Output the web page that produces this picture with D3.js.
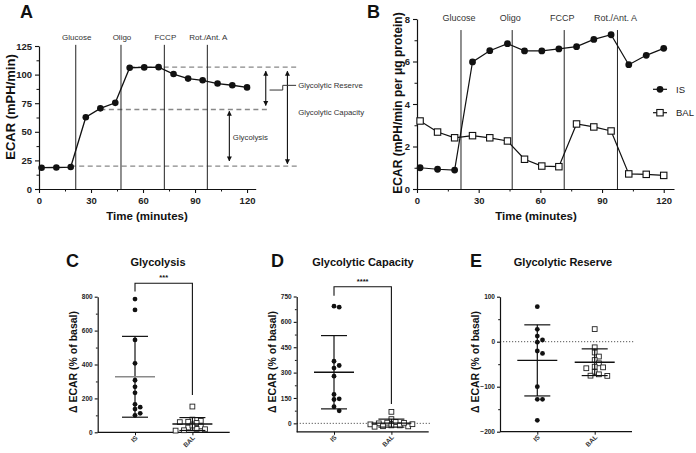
<!DOCTYPE html>
<html><head><meta charset="utf-8">
<script src="https://cdn.jsdelivr.net/npm/d3@7"></script>
<style>
body{margin:0;background:#fff}
svg{display:block}
text{font-family:"Liberation Sans",Arial,Helvetica,sans-serif}
</style>
</head><body>
<svg id="chart" width="696" height="453"></svg>
<script>
// ---------------- DATA ----------------
const timePoints = [1.5,10,18.3,27,35.4,44,52.3,60.7,69,77.6,86,94.4,103,111.5,120];
const ecarA   = [18.6,18.8,19.2,62.7,70.5,75.3,106,106.3,106.5,100.5,96.5,95,92.2,90.7,88.8];
const ecarIS  = [1.0,0.93,0.89,5.98,6.51,6.84,6.5,6.5,6.59,6.7,7.04,7.26,5.85,6.29,6.62];
const ecarBAL = [3.2,2.68,2.41,2.51,2.41,2.26,1.4,1.08,1.05,3.06,2.92,2.73,0.71,0.69,0.64];
const injectionNames = ["Glucose","Oligo","FCCP","Rot./Ant. A"];
const injectionTimesA = [21.2,47.3,72.3,97.1];
const injectionTimesB = [21.4,46.3,71.6,97.5];
const timeTicks = [0,30,60,90,120];
const ecarATicks = [0,25,50,75,100,125];
const ecarBTicks = [0,2,4,6,8];
const glycolyticLevels = [106.5,69.5,20];   // capacity, glucose-stimulated, basal
const annotationLabels = ["Glycolytic Reserve","Glycolytic Capacity","Glycolysis"];
const seriesNames = ["IS","BAL"];

const groups = ["IS","BAL"];
const glycolysisIS  = [786,722,545,407,307,268,233,148,165,137,112,100];
const glycolysisBAL = [152,75,68,62,60,55,35,28,18,12,10,20,40];
const capacityIS    = [693,687,367,342,327,279,145,171,141,98,74];
const capacityBAL   = [68,25,8,4,0,-6,-12,-17,-20,-18,-12,-5,3];
const reserveIS     = [77.8,27.5,12.6,3.8,-1,-20.7,-26,-100,-128,-128,-174.7];
const reserveBAL    = [28,-12.5,-24,-33,-40.7,-48,-57,-59,-55.5,-67,-72.5,-76,-75.5];
const glycolysisTicks = [0,200,400,600,800];
const capacityTicks   = [0,150,300,450,600,750];
const reserveTicks    = [-200,-100,0,100];

// ---------------- HELPERS ----------------
const svg = d3.select("#chart");
const FONT = '"Liberation Sans",Arial,Helvetica,sans-serif';
const mids = arr => d3.pairs(arr).map(([a,b]) => (a+b)/2);

function styleAxis(g, fs, bold){
  g.select(".domain").attr("stroke","#111").attr("stroke-width",1.2);
  g.selectAll(".tick line").attr("stroke","#111").attr("stroke-width",1.1);
  g.selectAll(".tick text").attr("font-size",fs).attr("font-weight",bold?"bold":"normal")
    .attr("fill","#222").style("font-family",FONT);
}
function panelLetter(t,x,y){
  svg.append("text").attr("x",x).attr("y",y).attr("font-size",18).attr("font-weight","bold")
    .attr("fill","#111").text(t);
}
const defs = svg.append("defs");
defs.append("marker").attr("id","ah").attr("viewBox","0 0 10 10").attr("refX",9).attr("refY",5)
  .attr("markerWidth",5).attr("markerHeight",6).attr("orient","auto-start-reverse")
  .attr("markerUnits","userSpaceOnUse")
  .append("path").attr("d","M0,0L10,5L0,10Z").attr("fill","#111");

// ---------------- PANEL A ----------------
(function(){
  const x = d3.scaleLinear().domain([0,125]).range([39,255.7]);
  const y = d3.scaleLinear().domain([0,125]).range([189,46]);
  panelLetter("A",20,18);
  const dashExt = [[52.3,150],[35.4,133],[18.3,150.5]];
  glycolyticLevels.forEach((lv,i)=>{
    svg.append("line").attr("x1",x(dashExt[i][0])).attr("x2",x(dashExt[i][1]))
      .attr("y1",y(lv)).attr("y2",y(lv)).attr("stroke","#888").attr("stroke-width",1.3)
      .attr("stroke-dasharray","5,3.5");
  });
  injectionTimesA.forEach((t,i)=>{
    svg.append("line").attr("x1",x(t)).attr("x2",x(t)).attr("y1",y(0)).attr("y2",y(126))
      .attr("stroke","#222").attr("stroke-width",1);
    svg.append("text").attr("x",x(t)+1).attr("y",40).attr("text-anchor","middle")
      .attr("font-size",8).attr("fill","#333").text(injectionNames[i]);
  });
  const gx = svg.append("g").attr("transform",`translate(0,${y(0)})`)
    .call(d3.axisBottom(x).tickValues(timeTicks).tickSize(4).tickSizeOuter(0).tickPadding(4));
  styleAxis(gx,9.5,true);
  svg.append("g").attr("transform",`translate(0,${y(0)})`)
    .call(d3.axisBottom(x).tickValues(mids(timeTicks)).tickSize(2.5).tickFormat(""))
    .call(g=>{g.select(".domain").remove(); g.selectAll("line").attr("stroke","#111");});
  const gy = svg.append("g").attr("transform",`translate(${x(0)},0)`)
    .call(d3.axisLeft(y).tickValues(ecarATicks).tickSize(4).tickSizeOuter(0).tickPadding(3));
  styleAxis(gy,9.5,true);
  svg.append("g").attr("transform",`translate(${x(0)},0)`)
    .call(d3.axisLeft(y).tickValues(mids(ecarATicks)).tickSize(2.5).tickFormat(""))
    .call(g=>{g.select(".domain").remove(); g.selectAll("line").attr("stroke","#111");});
  svg.append("text").attr("transform",`translate(15,107) rotate(-90)`).attr("text-anchor","middle")
    .attr("font-size",13).attr("font-weight","bold").attr("fill","#111").text("ECAR (mPH/min)");
  svg.append("text").attr("x",147).attr("y",220).attr("text-anchor","middle")
    .attr("font-size",11.5).attr("font-weight","bold").attr("fill","#111").text("Time (minutes)");
  const pts = timePoints.map((t,i)=>[t,ecarA[i]]);
  svg.append("path").datum(pts).attr("fill","none").attr("stroke","#111").attr("stroke-width",1.3)
    .attr("d",d3.line().x(d=>x(d[0])).y(d=>y(d[1])));
  svg.selectAll(".ptA").data(pts).enter().append("circle").attr("cx",d=>x(d[0])).attr("cy",d=>y(d[1]))
    .attr("r",3.3).attr("fill","#111");
  const arrow = (t,v1,v2)=>svg.append("line").attr("x1",x(t)).attr("x2",x(t))
    .attr("y1",y(v1)).attr("y2",y(v2)).attr("stroke","#111").attr("stroke-width",1.1)
    .attr("marker-start","url(#ah)").attr("marker-end","url(#ah)");
  arrow(130.8, glycolyticLevels[0]-3.5, glycolyticLevels[1]+3.5);
  arrow(109.8, glycolyticLevels[1]-1.5, glycolyticLevels[2]+4.5);
  arrow(143.3, glycolyticLevels[0]-3.5, glycolyticLevels[2]+2);
  svg.append("path").attr("fill","none").attr("stroke","#333").attr("stroke-width",1)
    .attr("d",`M${x(133)},${y(86.5)}H${x(140.6)}V${y(90.6)}H${x(148.3)}`);
  svg.append("text").attr("x",x(149.5)).attr("y",y(90.6)+3).attr("font-size",7.8).attr("fill","#333").text(annotationLabels[0]);
  svg.append("text").attr("x",x(149.5)).attr("y",y(67.3)+3).attr("font-size",7.8).attr("fill","#333").text(annotationLabels[1]);
  svg.append("text").attr("x",x(111.8)).attr("y",y(45.3)+3).attr("font-size",7.8).attr("fill","#333").text(annotationLabels[2]);
})();

// ---------------- PANEL B ----------------
(function(){
  const x = d3.scaleLinear().domain([0,125]).range([417,674]);
  const y = d3.scaleLinear().domain([0,8]).range([189,19]);
  panelLetter("B",367,18);
  injectionTimesB.forEach((t,i)=>{
    svg.append("line").attr("x1",x(t)).attr("x2",x(t)).attr("y1",y(0)).attr("y2",y(7.48))
      .attr("stroke","#222").attr("stroke-width",1);
    svg.append("text").attr("x",x(t)-2).attr("y",21).attr("text-anchor","middle")
      .attr("font-size",9).attr("fill","#333").text(injectionNames[i]);
  });
  const gx = svg.append("g").attr("transform",`translate(0,${y(0)})`)
    .call(d3.axisBottom(x).tickValues(timeTicks).tickSize(4).tickSizeOuter(0).tickPadding(4));
  styleAxis(gx,9.5,true);
  svg.append("g").attr("transform",`translate(0,${y(0)})`)
    .call(d3.axisBottom(x).tickValues(mids(timeTicks)).tickSize(2.5).tickFormat(""))
    .call(g=>{g.select(".domain").remove(); g.selectAll("line").attr("stroke","#111");});
  const gy = svg.append("g").attr("transform",`translate(${x(0)},0)`)
    .call(d3.axisLeft(y).tickValues(ecarBTicks).tickSize(4).tickSizeOuter(0).tickPadding(3));
  styleAxis(gy,9.5,true);
  svg.append("g").attr("transform",`translate(${x(0)},0)`)
    .call(d3.axisLeft(y).tickValues(mids(ecarBTicks)).tickSize(2.5).tickFormat(""))
    .call(g=>{g.select(".domain").remove(); g.selectAll("line").attr("stroke","#111");});
  svg.append("text").attr("transform",`translate(402,103) rotate(-90)`).attr("text-anchor","middle")
    .attr("font-size",12).attr("font-weight","bold").attr("fill","#111").text("ECAR (mPH/min per μg protein)");
  svg.append("text").attr("x",536).attr("y",220).attr("text-anchor","middle")
    .attr("font-size",11.5).attr("font-weight","bold").attr("fill","#111").text("Time (minutes)");
  const line = d3.line().x(d=>x(d[0])).y(d=>y(d[1]));
  const isPts = timePoints.map((t,i)=>[t,ecarIS[i]]);
  const balPts = timePoints.map((t,i)=>[t,ecarBAL[i]]);
  [isPts,balPts].forEach(p=>svg.append("path").datum(p).attr("fill","none").attr("stroke","#111")
    .attr("stroke-width",1.2).attr("d",line));
  svg.selectAll(".ptIS").data(isPts).enter().append("circle").attr("cx",d=>x(d[0])).attr("cy",d=>y(d[1]))
    .attr("r",3.4).attr("fill","#111");
  const s=6.4;
  svg.selectAll(".ptBAL").data(balPts).enter().append("rect").attr("x",d=>x(d[0])-s/2).attr("y",d=>y(d[1])-s/2)
    .attr("width",s).attr("height",s).attr("fill","#fff").attr("stroke","#111").attr("stroke-width",1.1);
  const lx=660, ly=[89.3,112.7];
  seriesNames.forEach((n,i)=>{
    svg.append("line").attr("x1",lx-7).attr("x2",lx+7).attr("y1",ly[i]).attr("y2",ly[i]).attr("stroke","#111").attr("stroke-width",1.2);
    if(i===0) svg.append("circle").attr("cx",lx).attr("cy",ly[i]).attr("r",3.4).attr("fill","#111");
    else svg.append("rect").attr("x",lx-s/2).attr("y",ly[i]-s/2).attr("width",s).attr("height",s)
      .attr("fill","#fff").attr("stroke","#111").attr("stroke-width",1.1);
    svg.append("text").attr("x",lx+16).attr("y",ly[i]+3.3).attr("font-size",9.5).attr("fill","#222").text(n);
  });
})();

// ---------------- DOT PANELS ----------------
function swarm(vals, y, minDist, step){
  const idx = vals.map((v,i)=>i).sort((a,b)=>vals[b]-vals[a]);
  const placed=[], off=new Array(vals.length).fill(0);
  idx.forEach(i=>{
    const py=y(vals[i]);
    for(let k=0;k<30;k++){
      const cands = k===0?[0]:[k*step,-k*step];
      const c = cands.find(c=>placed.every(p=>Math.hypot(p.x-c,p.y-py)>=minDist));
      if(c!==undefined){off[i]=c; placed.push({x:c,y:py}); break;}
    }
  });
  return off;
}

function dotPanel(o){
  const x = d3.scalePoint().domain(groups).range([o.x0,o.x0+132]).padding(0.65);
  const y = d3.scaleLinear().domain(o.domain).range([o.yBottom,o.yTop]);
  panelLetter(o.letter,o.letterX,267);
  svg.append("text").attr("x",o.titleX).attr("y",266).attr("text-anchor","middle")
    .attr("font-size",11).attr("font-weight","bold").attr("fill","#111").text(o.title);
  svg.append("text").attr("transform",`translate(${o.x0-21},362) rotate(-90)`).attr("text-anchor","middle")
    .attr("font-size",10.5).attr("font-weight","bold").attr("fill","#111").text("Δ ECAR (% of basal)");
  if(o.zero){
    svg.append("line").attr("x1",o.x0).attr("x2",o.x0+134).attr("y1",y(0)).attr("y2",y(0))
      .attr("stroke","#555").attr("stroke-width",1).attr("stroke-dasharray","1.2,1.8");
  }
  const gy = svg.append("g").attr("transform",`translate(${o.x0},0)`)
    .call(d3.axisLeft(y).tickValues(o.ticks).tickSize(3).tickSizeOuter(0).tickPadding(2));
  styleAxis(gy,6.5,true);
  svg.append("g").attr("transform",`translate(${o.x0},0)`)
    .call(d3.axisLeft(y).tickValues(mids(o.ticks)).tickSize(1.8).tickFormat(""))
    .call(g=>{g.select(".domain").remove(); g.selectAll("line").attr("stroke","#111");});
  const gx = svg.append("g").attr("transform",`translate(0,${o.yBottom})`)
    .call(d3.axisBottom(x).tickSize(3).tickSizeOuter(0).tickFormat(""));
  gx.select(".domain").attr("d",`M${o.x0},0H${o.x0+132}`).attr("stroke","#111").attr("stroke-width",1.2);
  gx.selectAll(".tick line").attr("stroke","#111");
  groups.forEach(gname=>{
    svg.append("text").attr("transform",`translate(${x(gname)+3},${o.yBottom+6}) rotate(-45)`)
      .attr("text-anchor","end").attr("font-size",6.5).attr("font-weight","bold").attr("fill","#333").text(gname);
  });
  o.data.forEach((vals,gi)=>{
    const cx = x(groups[gi]);
    if(gi===0){
      const off = swarm(vals,y,4.6,5.2);
      vals.forEach((v,i)=>svg.append("circle").attr("cx",cx+off[i]).attr("cy",y(v)).attr("r",2.4).attr("fill","#111"));
    } else {
      const off = swarm(vals,y,4.6,4.2);
      const s=4.8;
      vals.forEach((v,i)=>svg.append("rect").attr("x",cx+off[i]-s/2).attr("y",y(v)-s/2).attr("width",s).attr("height",s)
        .attr("fill","#fff").attr("stroke","#222").attr("stroke-width",0.9));
    }
  });
  o.data.forEach((vals,gi)=>{
    const cx = x(groups[gi]);
    const m = d3.mean(vals), sd = d3.deviation(vals);
    const col = o.meanColors[gi];
    svg.append("line").attr("x1",cx).attr("x2",cx).attr("y1",y(m-sd)).attr("y2",y(m+sd)).attr("stroke","#111").attr("stroke-width",1.2);
    [m-sd,m+sd].forEach(v=>svg.append("line").attr("x1",cx-13).attr("x2",cx+13).attr("y1",y(v)).attr("y2",y(v))
      .attr("stroke","#111").attr("stroke-width",1.2));
    svg.append("line").attr("x1",cx-20).attr("x2",cx+20).attr("y1",y(m)).attr("y2",y(m)).attr("stroke",col).attr("stroke-width",1.4);
  });
  if(o.bracket){
    const b=o.bracket, xi=x(groups[0]), xb=x(groups[1]);
    svg.append("path").attr("fill","none").attr("stroke","#111").attr("stroke-width",1.1)
      .attr("d",`M${xi},${y(b.left)}V${y(b.top)}H${xb}V${y(b.right)}`);
    svg.append("text").attr("x",(xi+xb)/2).attr("y",y(b.top)-3).attr("text-anchor","middle")
      .attr("font-size",7.5).attr("font-weight","bold").attr("fill","#111").text(b.stars);
  }
}

dotPanel({letter:"C",letterX:66,title:"Glycolysis",titleX:158,x0:97.7,domain:[0,800],yBottom:432.3,yTop:296.7,
  ticks:glycolysisTicks,data:[glycolysisIS,glycolysisBAL],meanColors:["#8a8a8a","#111"],zero:false,
  bracket:{left:830,top:879,right:220,stars:"***"}});
dotPanel({letter:"D",letterX:271,title:"Glycolytic Capacity",titleX:363,x0:296.7,domain:[-50,750],yBottom:431.8,yTop:296.5,
  ticks:capacityTicks,data:[capacityIS,capacityBAL],meanColors:["#111","#111"],zero:true,
  bracket:{left:755,top:808,right:115,stars:"****"}});
dotPanel({letter:"E",letterX:470,title:"Glycolytic Reserve",titleX:563,x0:500,domain:[-200,100],yBottom:431.7,yTop:296.7,
  ticks:reserveTicks,data:[reserveIS,reserveBAL],meanColors:["#111","#111"],zero:true,bracket:null});
</script>
</body></html>
